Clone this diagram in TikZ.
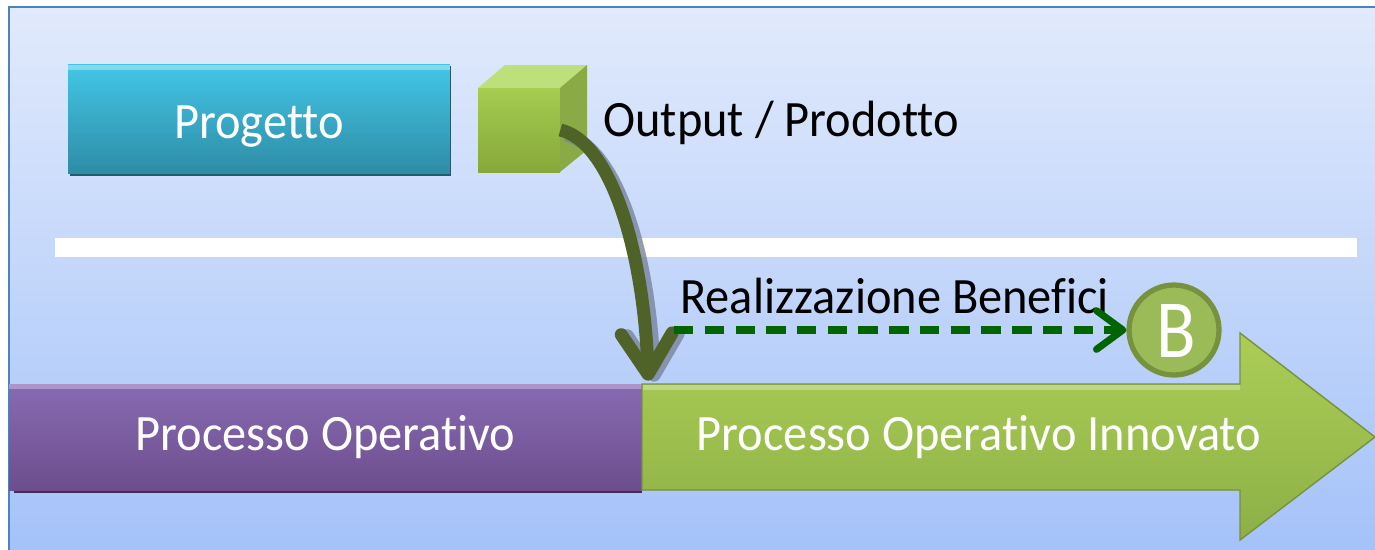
\documentclass[tikz,border=0pt]{standalone}
\usepackage{fontspec}
\usepackage{graphicx}
\setmainfont{Carlito}[Ligatures=NoCommon]
\usetikzlibrary{arrows.meta,calc}
\newcommand{\sqz}[1]{\scalebox{0.95}[1]{#1}}
\definecolor{bgtop}{RGB}{225,234,252}
\definecolor{bgbot}{RGB}{164,194,249}
\definecolor{bgborder}{RGB}{79,129,189}
\definecolor{progtop}{RGB}{66,198,230}
\definecolor{progbot}{RGB}{46,140,166}
\definecolor{progedge}{RGB}{36,90,106}
\definecolor{cubefront}{RGB}{166,204,80}
\definecolor{cubefrontb}{RGB}{134,168,58}
\definecolor{cubetop}{RGB}{190,224,122}
\definecolor{cuberight}{RGB}{138,170,70}
\definecolor{olive}{RGB}{79,98,40}
\definecolor{arrshadow}{RGB}{120,132,158}
\definecolor{purtop}{RGB}{136,106,178}
\definecolor{purbot}{RGB}{108,78,142}
\definecolor{puredge}{RGB}{64,44,90}
\definecolor{grtop}{RGB}{172,206,86}
\definecolor{grbot}{RGB}{140,176,70}
\definecolor{gredge}{RGB}{118,146,60}
\definecolor{bfill}{RGB}{155,187,89}
\definecolor{bedge}{RGB}{118,146,60}
\definecolor{dgreen}{RGB}{0,100,0}
\tikzset{
  lbl/.style={font=\fontsize{29}{34}\selectfont, inner sep=0pt},
  progbox/.style={lbl, text=white, top color=progtop, bottom color=progbot,
    minimum width=7.64cm, minimum height=2.18cm, text height=0.76cm, text depth=0cm},
  purbox/.style={lbl, text=white, top color=purtop, bottom color=purbot,
    minimum width=12.66cm, minimum height=2.12cm},
  cubebox/.style={top color=cubefront, bottom color=cubefrontb,
    minimum width=1.64cm, minimum height=1.68cm, inner sep=0pt},
  curvearrow/.style={olive, line width=7.4pt,
    -{Straight Barb[length=23pt,width=29pt,round]}},
  curveshadow/.style={arrshadow, opacity=0.8, line width=7.4pt,
    -{Straight Barb[length=23pt,width=29pt,round]}},
  dasharrow/.style={dgreen, line width=4pt, dash pattern=on 11pt off 6.5pt,
    -{Straight Barb[length=15pt,width=22pt,round]}},
  bcircle/.style={circle, fill=bfill, draw=bedge, line width=3pt,
    minimum size=1.8cm, inner sep=0pt, text=white,
    font=\fontsize{47}{50}\selectfont, text height=1.1cm, text depth=0cm}
}
\begin{document}
\begin{tikzpicture}[x=0.02cm,y=-0.02cm]
\useasboundingbox (0,0) rectangle (1375,549);
\fill[white] (0,0) rectangle (1375,549);
% background panel
\shade[top color=bgtop, bottom color=bgbot] (9,7) rectangle (1380,555);
\draw[bgborder, line width=1.2pt] (9,560) -- (9,7) -- (1385,7);
% separator
\fill[white] (55,238) rectangle (1357,257);

% Progetto
\fill[progedge] (70,66) rectangle (451,176);
\node[progbox] (prog) at (259,119) {\sqz{Progetto}};
\fill[white, opacity=0.35] (68,65) rectangle (450,70);

% cube
\node[cubebox] (cube) at (519,130) {};
\fill[cubetop] (478,88) -- (505,65) -- (587,65) -- (560,88) -- cycle;
\fill[cuberight] (560,88) -- (587,65) -- (587,150) -- (560,172) -- cycle;
\node[lbl, anchor=west] (out) at (603,123) {\sqz{Output / Prodotto}};

% operational process
\fill[puredge] (14,386) rectangle (642,493);
\node[purbox] (po) at (325.5,437) {\sqz{Processo Operativo}};
\fill[white, opacity=0.3] (9,384) rectangle (642,389);

% innovated process arrow
\shade[top color=grtop, bottom color=grbot, draw=gredge, line width=0.8pt]
  (642,384) -- (1240,384) -- (1240,333) -- (1375,437) -- (1240,540)
  -- (1240,490) -- (642,490) -- cycle;
\fill[white, opacity=0.3] (643,385) rectangle (1240,390);
\node[lbl, text=white] (poi) at (979,437) {\sqz{Processo Operativo Innovato}};

% curved arrow from output to process
\draw[curveshadow] ($(cube.east)+(6,5)$) .. controls (618,148) and (650,258) .. ($(po.north east)+(12,-2)$);
\draw[curvearrow] (cube.east) .. controls (612,142) and (644,255) .. ($(po.north east)+(6,-3)$);

% benefits
\node[lbl, anchor=west] (rb) at (680,296) {\sqz{Realizzazione Benefici}};
\node[bcircle] (B) at (1174,330) {\hspace{0.1cm}\scalebox{0.88}[1]{B}};
\coordinate (ds) at (674,330);
\draw[dasharrow] (ds) -- (B.west);
\end{tikzpicture}
\end{document}
